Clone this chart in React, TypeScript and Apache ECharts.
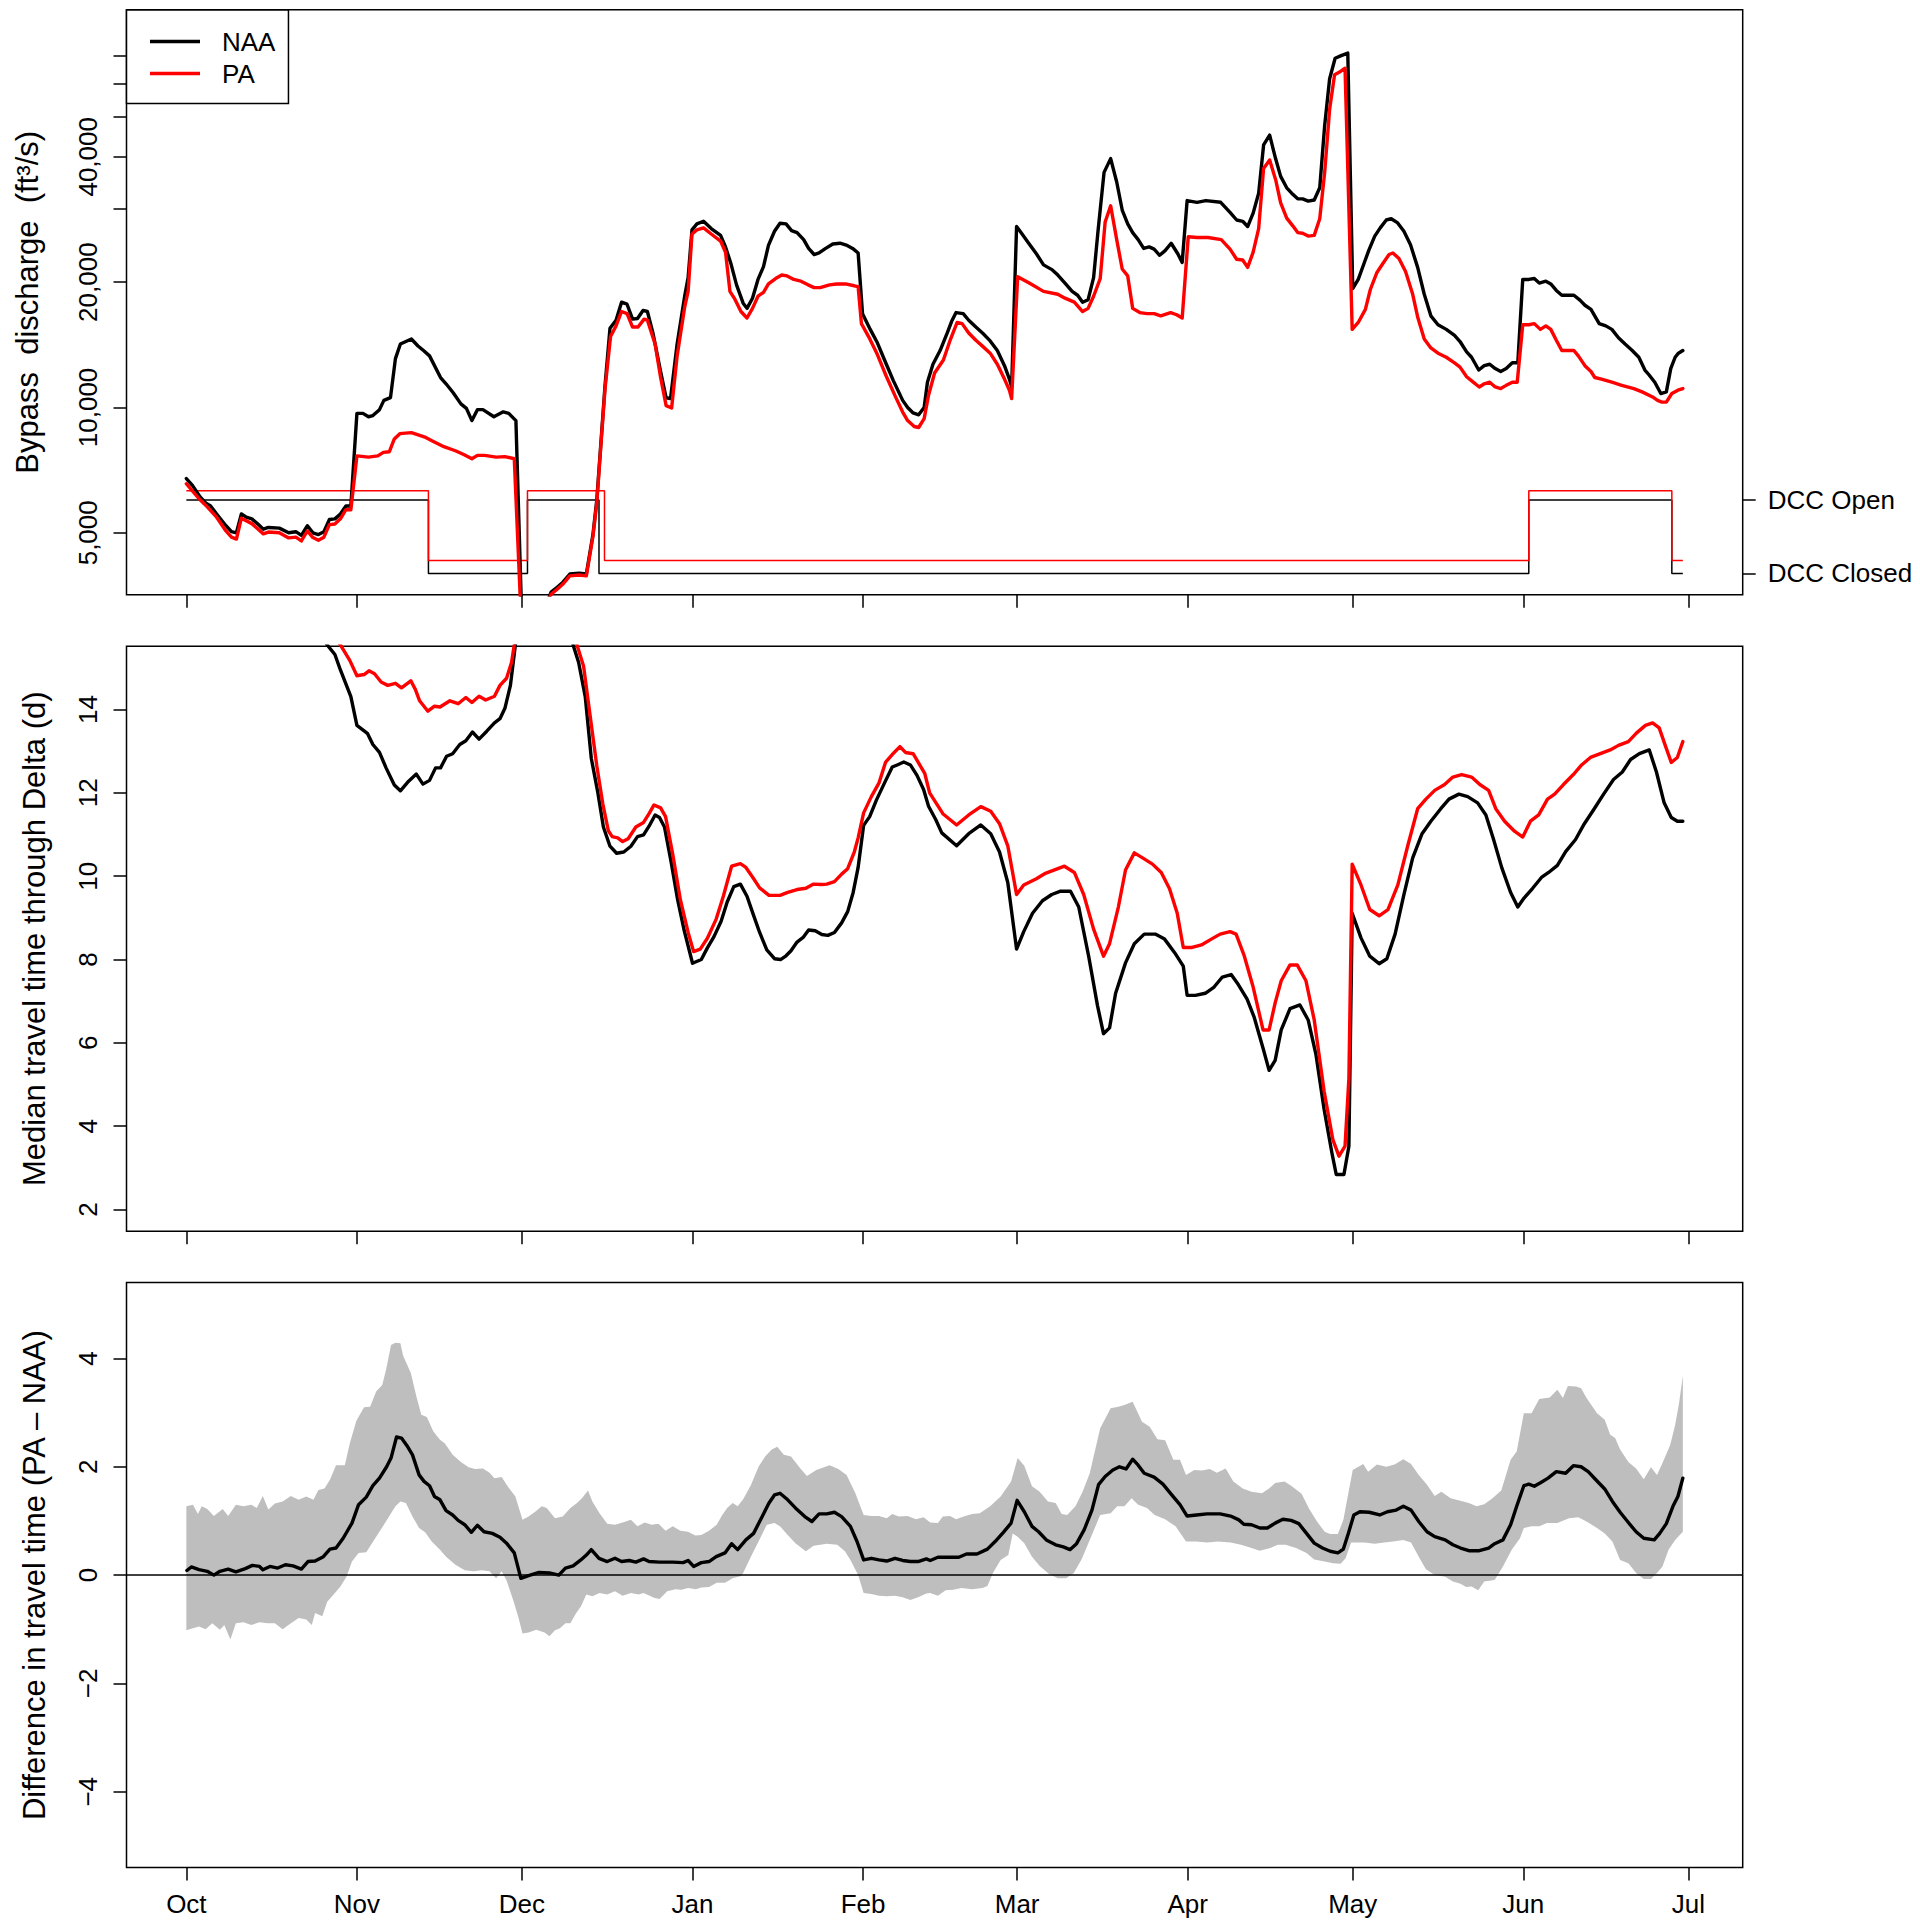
import React, { useEffect, useRef } from "react";
import * as echarts from "echarts";

// ---------- tick positions / labels ----------
const monthTickDays = [0, 31, 61, 92, 123, 151, 182, 212, 243, 273];
const monthLabels = ["Oct", "Nov", "Dec", "Jan", "Feb", "Mar", "Apr", "May", "Jun", "Jul"];
const flowTickValues = [5000, 10000, 20000, 30000, 40000, 50000, 60000, 70000];
const flowLabelValues = [5000, 10000, 20000, 40000];
const travelTickValues = [2, 4, 6, 8, 10, 12, 14];
const diffTickValues = [-4, -2, 0, 2, 4];
const gateTickValues = [0, 1];
const gateTickLabels = ["DCC Closed", "DCC Open"];

// ---------- panel 1: bypass discharge (ft3/s), [day since Oct 1, value] ----------
const naaFlow = [[0,6750],[1.1,6500],[2.5,6100],[3.5,5900],[4.4,5800],[5.5,5550],[7.2,5200],[8.2,5030],[9.1,5000],[10.0,5550],[10.9,5450],[11.9,5400],[12.9,5260],[14.0,5100],[14.9,5150],[16.9,5130],[18.6,5000],[19.9,5030],[20.9,4930],[22.0,5200],[23.0,5000],[24.0,4950],[25.0,5030],[26.0,5380],[27.0,5400],[28.0,5550],[29.0,5800],[29.9,5800],[31.0,9680],[32.1,9680],[33.1,9500],[33.9,9560],[35.1,9880],[35.9,10400],[37.1,10560],[38.0,13100],[38.9,14200],[40.9,14600],[42.1,14050],[43.1,13700],[44.2,13300],[46.2,11800],[47.2,11400],[48.5,10850],[49.9,10200],[50.9,9950],[51.9,9300],[52.9,9880],[53.9,9880],[55.9,9500],[57.6,9760],[58.6,9680],[59.9,9300],[61.0,3000],[64.0,2900],[65.5,3400],[66.3,3600],[67.4,3700],[68.4,3800],[69.7,3980],[71.4,4000],[72.7,3980],[73.9,4950],[74.6,6000],[75.4,8400],[76.1,11300],[77.0,15500],[78.1,16200],[79.1,17900],[80.1,17700],[81.1,16300],[82.0,16350],[83.0,17100],[83.8,17000],[84.8,15100],[86.2,12200],[87.2,10550],[88.0,10500],[89.2,14200],[90.6,18600],[91.2,20500],[91.9,26700],[92.8,27600],[94.0,28000],[95.4,26900],[97.1,25900],[98.0,24300],[99.0,22100],[100.0,19700],[101.2,17800],[101.9,17300],[102.9,18300],[103.9,20300],[104.9,21800],[105.8,24500],[106.9,26500],[107.9,27700],[109.0,27600],[110.0,26600],[111.0,26300],[112.2,25300],[113.1,24100],[114.1,23300],[115.0,23500],[116.2,24100],[117.5,24700],[118.8,24800],[120.1,24500],[121.1,24100],[122.1,23500],[122.9,16800],[124.3,15400],[125.6,14300],[126.9,13000],[128.5,11600],[130.2,10400],[131.1,10000],[132.1,9700],[133.1,9600],[134.1,10000],[134.7,11500],[135.7,12700],[137.0,13700],[138.3,15100],[139.1,16100],[139.9,16900],[141.2,16800],[142.2,16200],[143.5,15600],[144.8,15050],[146.1,14450],[147.4,13700],[148.7,12600],[149.6,11700],[150.0,11200],[150.9,27200],[151.9,26100],[153.1,24800],[154.5,23400],[155.8,22000],[157.4,21400],[158.4,20800],[159.7,19900],[161.0,19000],[162.0,18600],[162.9,17900],[163.9,18150],[164.9,20500],[165.7,26500],[166.8,36700],[168.0,39600],[169.1,34800],[170.1,29800],[171.1,27600],[172.0,26300],[173.0,25300],[174.0,24100],[175.0,24300],[175.9,24000],[176.9,23200],[177.9,23800],[179.0,24800],[180.2,23400],[181.0,22300],[181.9,31400],[183.7,31100],[185.3,31400],[188.0,31100],[189.7,29400],[190.9,28200],[192.0,28000],[192.9,27200],[193.9,29300],[194.9,32700],[195.8,42700],[196.9,45100],[198.0,39500],[198.9,35900],[200.0,33700],[200.9,32700],[202.0,31700],[202.9,31700],[203.9,31300],[205.0,31500],[206.0,33700],[206.9,47600],[207.8,61600],[208.8,69000],[209.9,70000],[211.1,71000],[212.0,19300],[213.0,20300],[213.9,21900],[214.9,23800],[216.0,25800],[217.0,27000],[218.1,28200],[219.0,28400],[220.1,27800],[221.3,26500],[222.5,24600],[223.8,21700],[225.0,18700],[226.2,16600],[227.5,15800],[229.0,15400],[230.5,14900],[231.5,14400],[232.7,13600],[233.6,13200],[234.9,12300],[235.9,12600],[236.9,12700],[237.9,12400],[238.9,12200],[239.9,12400],[241.0,12800],[242.0,12800],[242.9,20300],[244.0,20300],[245.0,20400],[245.9,19900],[247.1,20100],[248.0,19800],[249.0,19100],[250.0,18600],[251.1,18600],[252.2,18600],[253.3,18100],[254.2,17600],[255.3,17200],[256.8,15900],[258.0,15700],[259.1,15400],[260.3,14700],[261.5,14200],[262.8,13700],[264.0,13200],[265.1,12300],[265.8,12000],[266.9,11500],[268.0,10800],[269.0,10900],[269.8,12400],[270.6,13200],[271.2,13500],[272.0,13700]];

const paFlow = [[0,6560],[1.1,6300],[2.5,6000],[3.8,5770],[5.5,5450],[7.2,5050],[8.2,4880],[9.1,4830],[10.0,5420],[11.9,5260],[14.0,4970],[14.9,5020],[16.9,5000],[18.6,4860],[19.9,4880],[20.9,4780],[22.0,5050],[23.0,4870],[24.0,4800],[25.0,4880],[26.0,5230],[27.0,5250],[28.0,5400],[29.0,5680],[29.9,5680],[31.0,7650],[33.1,7600],[34.8,7650],[35.8,7800],[36.9,7830],[37.8,8400],[38.8,8650],[40.9,8700],[43.5,8470],[44.8,8300],[46.8,8050],[48.9,7870],[50.5,7700],[51.9,7530],[52.9,7670],[54.2,7670],[56.3,7600],[57.9,7620],[59.6,7530],[60.9,3000],[64.0,2880],[65.5,3370],[66.3,3560],[67.4,3660],[68.4,3760],[69.7,3940],[71.4,3960],[72.7,3940],[73.9,4900],[74.6,5900],[75.4,8300],[76.1,11100],[77.1,14800],[78.1,15700],[79.1,17000],[80.1,16800],[81.1,15600],[82.1,15600],[83.2,16300],[83.8,16200],[85.2,14200],[86.2,11800],[87.2,10100],[88.2,9970],[89.2,13300],[90.6,17500],[91.2,19000],[91.9,26100],[92.8,26700],[94.0,27000],[95.4,26100],[97.1,25100],[98.0,23600],[98.8,19000],[99.7,18200],[100.8,17000],[101.9,16400],[102.9,17300],[103.9,18500],[104.9,18900],[105.8,19800],[107.1,20400],[108.2,20800],[109.2,20700],[110.4,20300],[111.7,20100],[113.0,19700],[114.1,19400],[115.2,19400],[116.9,19700],[118.2,19800],[119.8,19800],[121.4,19600],[122.1,19500],[122.7,15900],[124.0,14800],[125.6,13400],[127.2,11900],[128.9,10600],[130.2,9750],[131.1,9300],[132.3,9000],[133.1,8950],[134.1,9400],[134.9,10700],[136.0,12100],[137.6,13000],[138.9,14600],[140.1,16000],[141.0,15900],[142.2,15100],[143.5,14500],[144.8,14000],[146.1,13500],[147.4,12700],[148.7,11700],[149.6,11000],[150.0,10500],[151.1,20600],[153.2,19900],[155.8,19000],[158.4,18700],[159.7,18300],[161.4,17900],[162.9,17000],[163.9,17300],[164.9,18500],[166.1,20400],[167.0,27900],[168.0,30500],[169.1,25300],[170.1,21500],[171.1,20700],[172.0,17300],[173.3,16900],[174.6,16800],[175.9,16800],[177.1,16600],[178.9,16900],[180.0,16700],[181.0,16400],[182.1,25700],[183.7,25600],[185.7,25600],[188.1,25300],[189.7,24000],[190.9,22700],[192.0,22600],[192.9,21700],[193.9,23600],[194.9,26900],[195.8,37500],[196.9,39300],[198.0,35200],[198.9,31000],[200.0,28500],[201.1,27300],[202.0,26300],[202.9,26200],[203.9,25800],[205.0,25900],[206.0,28400],[206.9,36700],[207.8,52000],[208.7,63000],[209.6,63900],[210.6,65300],[211.9,15400],[213.0,16000],[214.3,17200],[215.2,19200],[216.4,21100],[217.6,22300],[218.6,23300],[219.3,23500],[220.4,22800],[221.6,21200],[222.9,18700],[223.8,16500],[225.0,14600],[226.2,13900],[227.5,13500],[229.0,13200],[230.5,12800],[231.5,12500],[232.7,11850],[233.9,11500],[235.0,11200],[235.9,11400],[236.9,11500],[237.9,11200],[238.9,11100],[239.9,11300],[241.0,11500],[241.9,11500],[242.9,15800],[244.0,15800],[245.0,15900],[246.1,15400],[247.1,15700],[248.0,15400],[249.0,14500],[250.0,13700],[251.1,13700],[252.2,13700],[253.0,13300],[254.2,12600],[255.3,12200],[256.0,11800],[257.2,11700],[259.1,11500],[260.9,11300],[263.1,11100],[264.6,10900],[266.5,10600],[267.4,10400],[268.2,10300],[269.0,10300],[270.0,10800],[271.1,11000],[272.0,11100]];

// DCC gate: day of change and state (1 open, 0 closed)
const naaGate = [[0,1],[44,0],[62,1],[75,0],[244,1],[270,0],[272,0]];
const paGate = [[0,1],[44,0],[62,1],[76,0],[244,1],[270,0],[272,0]];
const paGateLevels = [0.178, 1.125]; // closed, open (drawn slightly offset)

// ---------- panel 2: median travel time (d) ----------
const naaTravel = [[0,20],[10,19],[20,17],[24,15.9],[25.6,15.55],[27.0,15.32],[28.0,14.95],[29.9,14.31],[31.0,13.62],[32.9,13.43],[33.9,13.16],[35.1,12.97],[36.3,12.60],[37.8,12.19],[38.9,12.05],[40.4,12.28],[41.8,12.45],[43.0,12.21],[44.2,12.30],[45.3,12.60],[46.2,12.60],[47.3,12.88],[48.4,12.94],[49.7,13.16],[50.8,13.25],[52.0,13.46],[53.2,13.29],[54.6,13.48],[56.0,13.68],[57.0,13.78],[57.9,14.03],[58.9,14.58],[59.8,15.55],[61,17],[65,20],[69,17],[70.3,15.55],[71.3,15.13],[72.5,14.31],[73.6,12.83],[74.8,12.0],[75.8,11.18],[77.0,10.72],[78.2,10.55],[79.5,10.58],[80.8,10.72],[82.0,10.95],[83.1,10.99],[84.1,11.20],[85.2,11.47],[86.0,11.41],[86.9,11.18],[88.1,10.35],[89.3,9.43],[90.5,8.69],[92.0,7.91],[93.6,8.00],[94.7,8.28],[95.9,8.55],[97.2,8.92],[98.3,9.38],[99.5,9.75],[100.7,9.81],[101.9,9.52],[103.1,9.06],[104.2,8.65],[105.5,8.23],[106.9,8.02],[108.0,8.00],[109.0,8.09],[109.9,8.21],[111.0,8.42],[112.1,8.53],[113.1,8.71],[114.3,8.69],[115.5,8.60],[116.6,8.58],[117.8,8.65],[119.1,8.88],[120.2,9.15],[121.2,9.61],[122.1,10.21],[123.1,11.22],[124.2,11.43],[125.4,11.82],[126.9,12.24],[128.3,12.62],[129.2,12.67],[130.4,12.74],[131.6,12.67],[132.8,12.42],[134.0,12.08],[134.9,11.68],[136.2,11.36],[137.3,11.04],[140.0,10.73],[142.2,11.02],[144.4,11.23],[146.2,11.02],[147.8,10.58],[149.3,9.85],[150.9,8.25],[152.2,8.67],[153.8,9.11],[155.6,9.41],[157.3,9.56],[158.9,9.64],[160.7,9.64],[162.2,9.26],[164.0,8.08],[165.6,6.90],[166.7,6.22],[167.8,6.36],[168.9,7.19],[170.7,7.92],[172.3,8.38],[174.1,8.61],[176.1,8.61],[177.8,8.49],[179.6,8.17],[181.2,7.84],[181.9,7.14],[183.4,7.14],[185.2,7.19],[186.8,7.34],[188.3,7.58],[189.9,7.64],[191.2,7.40],[192.8,7.05],[194.1,6.61],[195.7,5.87],[196.8,5.34],[197.9,5.58],[199.0,6.31],[200.6,6.82],[202.4,6.91],[203.9,6.55],[205.3,5.73],[206.8,4.40],[208.2,3.37],[209.0,2.84],[210.4,2.84],[211.3,3.52],[211.9,9.11],[213.5,8.52],[215.1,8.08],[216.8,7.90],[218.2,8.02],[219.7,8.61],[221.3,9.56],[222.9,10.44],[224.6,11.02],[226.2,11.32],[228.0,11.62],[229.5,11.85],[231.3,11.97],[232.9,11.91],[234.7,11.76],[236.2,11.47],[237.6,10.88],[239.1,10.20],[240.7,9.61],[242.0,9.26],[243.1,9.47],[244.7,9.71],[246.3,9.97],[247.6,10.09],[249.2,10.26],[250.7,10.59],[252.5,10.88],[254.1,11.26],[255.9,11.62],[257.6,11.97],[259.4,12.32],[261.0,12.50],[262.5,12.80],[264.1,12.94],[265.9,13.03],[267.2,12.50],[268.6,11.76],[269.9,11.41],[271.0,11.32],[272.0,11.32]];

const paTravel = [[0,20],[10,19.5],[20,17.5],[26,15.9],[28.0,15.55],[29.7,15.18],[31.0,14.81],[32.3,14.84],[33.2,14.93],[34.2,14.86],[35.4,14.66],[36.6,14.58],[38.0,14.63],[39.1,14.52],[40.8,14.69],[41.6,14.49],[42.4,14.21],[43.9,13.96],[45.1,14.08],[46.1,14.06],[47.9,14.21],[49.4,14.14],[50.8,14.29],[51.9,14.17],[53.2,14.32],[54.4,14.23],[56.0,14.32],[57.0,14.58],[58.2,14.75],[59.1,15.13],[59.6,15.55],[61,17.5],[65,20],[69.5,17],[71.0,15.55],[72.2,15.04],[73.4,13.84],[74.6,12.65],[75.7,11.73],[76.7,11.09],[77.4,10.95],[78.4,10.92],[79.3,10.83],[80.3,10.90],[81.7,11.18],[83.1,11.29],[84.1,11.50],[85.0,11.71],[86.2,11.64],[87.1,11.43],[88.4,10.53],[89.8,9.43],[91.2,8.65],[92.2,8.19],[93.4,8.25],[94.7,8.51],[96.3,8.97],[97.6,9.52],[99.1,10.24],[100.7,10.30],[101.7,10.21],[102.9,9.98],[104.2,9.72],[105.9,9.54],[107.9,9.54],[109.3,9.61],[111.0,9.68],[112.6,9.71],[114.0,9.81],[115.5,9.80],[116.4,9.81],[117.8,9.87],[119.1,10.05],[120.2,10.18],[121.4,10.58],[122.1,10.92],[123.1,11.52],[124.5,11.91],[125.9,12.24],[127.1,12.74],[128.3,12.92],[129.7,13.11],[130.7,12.97],[132.1,12.94],[133.0,12.74],[134.2,12.47],[135.1,12.00],[136.4,11.73],[137.5,11.50],[140.0,11.23],[142.2,11.47],[144.4,11.67],[146.2,11.56],[147.8,11.26],[149.3,10.73],[150.9,9.56],[152.2,9.79],[154.5,9.94],[156.0,10.06],[157.8,10.15],[159.6,10.24],[161.4,10.09],[163.1,9.56],[164.9,8.73],[166.7,8.08],[167.8,8.38],[169.4,9.26],[170.7,10.15],[172.3,10.56],[173.8,10.44],[175.6,10.29],[177.2,10.09],[178.7,9.70],[180.1,9.11],[181.2,8.29],[182.8,8.29],[184.5,8.35],[186.3,8.49],[187.9,8.61],[189.7,8.67],[190.8,8.61],[192.3,8.08],[193.9,7.34],[195.7,6.31],[196.8,6.31],[197.9,6.96],[199.0,7.49],[200.6,7.87],[201.9,7.87],[203.5,7.49],[205.0,6.55],[206.8,4.84],[208.4,3.67],[209.5,3.28],[210.6,3.52],[211.3,5.14],[211.9,10.29],[213.5,9.79],[215.1,9.20],[216.8,9.05],[218.4,9.20],[220.2,9.79],[222.0,10.73],[223.8,11.62],[225.3,11.85],[226.9,12.06],[228.7,12.20],[230.2,12.38],[231.8,12.44],[233.6,12.38],[235.1,12.20],[236.7,12.06],[238.0,11.62],[239.6,11.32],[241.4,11.08],[242.9,10.94],[244.3,11.32],[245.8,11.47],[247.4,11.85],[248.7,11.97],[250.3,12.20],[252.1,12.44],[253.6,12.67],[255.2,12.85],[257.0,12.94],[258.8,13.03],[260.3,13.14],[262.1,13.23],[263.6,13.44],[265.2,13.62],[266.5,13.68],[267.7,13.56],[268.8,13.14],[269.9,12.73],[271.0,12.85],[272.0,13.23]];

// ---------- panel 3: difference in travel time (PA - NAA) ----------
const diffMedian = [[0.1,0.085],[0.9,0.15],[2.3,0.10],[3.8,0.07],[5.0,0.0],[6.1,0.07],[7.6,0.11],[9.0,0.06],[10.7,0.12],[12.0,0.18],[13.3,0.16],[13.9,0.10],[15.2,0.16],[16.6,0.13],[18.0,0.19],[19.4,0.17],[20.9,0.11],[22.1,0.25],[23.4,0.26],[24.9,0.34],[26.1,0.48],[27.2,0.50],[28.5,0.68],[30.1,0.96],[31.3,1.30],[32.7,1.44],[33.9,1.65],[35.1,1.79],[36.4,2.00],[37.2,2.16],[38.2,2.55],[39.1,2.53],[40.1,2.39],[41.1,2.22],[42.3,1.85],[43.2,1.73],[44.2,1.65],[45.1,1.45],[46.1,1.39],[47.2,1.19],[48.4,1.11],[49.4,1.01],[50.6,0.93],[51.8,0.79],[52.9,0.92],[54.1,0.80],[55.6,0.77],[57.0,0.70],[58.2,0.59],[59.6,0.41],[60.8,-0.06],[62.2,-0.01],[64.1,0.05],[66.0,0.04],[67.7,0.0],[68.9,0.13],[70.3,0.17],[71.7,0.28],[72.7,0.37],[73.6,0.47],[75.0,0.31],[76.5,0.25],[77.9,0.31],[79.1,0.25],[80.5,0.27],[81.7,0.24],[83.1,0.30],[84.1,0.25],[86.0,0.24],[88.4,0.24],[90.3,0.23],[91.2,0.27],[92.2,0.16],[93.6,0.23],[95.0,0.25],[96.3,0.34],[97.9,0.41],[99.1,0.58],[100.2,0.47],[101.7,0.65],[103.1,0.77],[104.5,1.05],[105.9,1.33],[106.9,1.48],[107.9,1.51],[109.3,1.39],[110.7,1.24],[112.4,1.08],[113.7,0.99],[115.0,1.13],[116.4,1.13],[117.8,1.16],[119.1,1.08],[120.7,0.90],[121.9,0.62],[123.1,0.28],[124.5,0.31],[125.9,0.28],[127.3,0.26],[128.8,0.31],[130.2,0.27],[131.6,0.25],[133.0,0.25],[134.5,0.30],[135.2,0.27],[136.6,0.33],[138.5,0.33],[140.4,0.33],[141.8,0.39],[143.7,0.39],[145.6,0.48],[147.0,0.62],[148.5,0.79],[149.9,0.96],[151.0,1.38],[152.3,1.17],[153.7,0.90],[154.9,0.80],[156.3,0.65],[158.0,0.56],[159.4,0.52],[160.6,0.47],[161.8,0.58],[163.2,0.84],[164.6,1.20],[165.8,1.67],[167.0,1.82],[168.4,1.94],[169.6,2.00],[170.8,1.96],[172.0,2.14],[173.0,2.03],[174.1,1.88],[175.9,1.81],[177.5,1.68],[179.1,1.48],[180.6,1.30],[181.9,1.09],[183.6,1.11],[185.5,1.13],[187.9,1.13],[189.8,1.09],[191.3,1.02],[192.2,0.94],[193.6,0.93],[195.1,0.87],[196.5,0.87],[197.9,0.96],[199.3,1.03],[200.8,1.01],[202.2,0.95],[203.6,0.77],[205.0,0.59],[206.5,0.50],[207.9,0.44],[209.3,0.41],[210.3,0.48],[211.2,0.77],[212.2,1.11],[213.3,1.17],[215.0,1.16],[216.9,1.11],[218.3,1.17],[219.9,1.20],[221.2,1.27],[222.6,1.20],[224.0,0.99],[225.5,0.80],[226.9,0.71],[228.8,0.65],[230.2,0.56],[231.6,0.50],[233.1,0.45],[235.0,0.45],[236.7,0.50],[237.8,0.58],[239.3,0.65],[240.7,0.93],[241.8,1.27],[243.1,1.65],[244.0,1.68],[245.0,1.64],[246.2,1.71],[247.5,1.79],[249.0,1.91],[250.7,1.88],[252.1,2.02],[253.5,2.00],[254.8,1.91],[256.1,1.77],[257.8,1.59],[259.2,1.36],[260.6,1.16],[262.1,0.97],[263.5,0.80],[264.9,0.68],[266.8,0.65],[267.8,0.77],[269.0,0.95],[270.2,1.27],[271.1,1.45],[272.0,1.79]];

const diffUpper = [[0,1.27],[1.2,1.30],[2.1,1.13],[2.8,1.27],[3.8,1.22],[5.0,1.09],[6.6,1.22],[7.6,1.09],[9.0,1.30],[10.4,1.27],[11.8,1.30],[12.8,1.24],[13.9,1.46],[14.9,1.21],[16.1,1.32],[17.5,1.36],[19.0,1.46],[20.4,1.39],[21.8,1.45],[23.1,1.39],[24.0,1.57],[25.1,1.60],[26.1,1.76],[27.2,2.03],[28.8,2.03],[29.7,2.43],[30.9,2.85],[32.3,3.10],[33.4,3.11],[34.5,3.39],[35.6,3.51],[36.3,3.79],[37.2,4.25],[38.0,4.29],[38.9,4.28],[39.4,4.05],[40.8,3.73],[41.8,3.30],[42.7,2.96],[43.7,2.92],[44.9,2.65],[46.1,2.50],[47.0,2.43],[48.4,2.22],[49.9,2.09],[51.3,1.99],[52.5,1.96],[53.9,1.97],[55.1,1.89],[56.0,1.79],[57.3,1.81],[58.4,1.64],[59.8,1.45],[61.1,1.02],[62.2,1.08],[63.4,1.17],[64.6,1.27],[65.5,1.24],[67.0,1.05],[68.4,1.08],[69.8,1.24],[71.0,1.33],[71.9,1.42],[73.0,1.56],[73.8,1.36],[75.1,1.14],[76.5,0.95],[77.9,0.93],[79.3,0.97],[80.8,1.02],[82.0,0.90],[83.3,0.97],[84.6,0.93],[85.8,0.95],[87.1,0.82],[88.4,0.90],[89.8,0.82],[91.2,0.80],[92.5,0.73],[93.6,0.74],[95.0,0.82],[96.4,0.93],[97.4,1.11],[98.3,1.24],[99.3,1.33],[100.2,1.27],[101.2,1.40],[102.6,1.66],[104.0,2.00],[105.2,2.19],[106.4,2.32],[107.4,2.37],[108.6,2.22],[109.9,2.19],[111.6,1.97],[112.8,1.83],[114.5,1.94],[116.9,2.03],[118.5,1.96],[120.0,1.85],[121.6,1.51],[123.1,1.11],[124.5,1.09],[125.9,1.09],[127.3,1.05],[128.3,1.13],[129.5,1.08],[131.1,1.09],[132.6,1.03],[134.0,1.07],[135.2,0.97],[136.6,0.96],[137.5,1.08],[138.8,1.09],[139.9,1.03],[141.3,1.08],[142.8,1.13],[144.2,1.14],[146.1,1.27],[148.0,1.45],[149.9,1.73],[151.1,2.16],[152.3,2.02],[153.7,1.64],[155.1,1.54],[156.6,1.36],[158.0,1.33],[159.1,1.13],[160.1,1.11],[161.6,1.27],[162.9,1.54],[164.2,1.88],[166.1,2.71],[168.0,3.08],[169.4,3.11],[170.5,3.14],[172.0,3.20],[173.7,2.83],[175.1,2.74],[176.5,2.51],[177.9,2.49],[179.4,2.13],[180.6,2.13],[181.7,1.85],[183.2,1.94],[184.6,1.93],[186.0,1.96],[187.3,1.89],[188.9,1.97],[190.3,1.73],[192.0,1.60],[193.6,1.54],[195.5,1.51],[196.8,1.60],[197.9,1.70],[199.6,1.73],[200.8,1.65],[202.7,1.50],[204.1,1.22],[205.5,0.99],[206.9,0.80],[207.9,0.76],[209.3,0.76],[210.3,1.02],[211.2,1.51],[212.0,1.94],[213.9,2.05],[214.8,1.91],[216.4,2.04],[218.1,2.00],[219.6,2.04],[221.2,2.14],[222.6,2.05],[224.0,1.85],[225.5,1.67],[226.9,1.46],[228.1,1.54],[229.8,1.42],[231.2,1.38],[233.1,1.33],[234.5,1.27],[235.9,1.31],[237.4,1.42],[239.0,1.56],[240.7,2.13],[241.8,2.28],[243.1,2.99],[244.5,2.99],[245.9,3.25],[247.8,3.28],[249.2,3.42],[250.2,3.27],[251.1,3.49],[252.6,3.48],[253.5,3.45],[254.5,3.27],[256.4,2.99],[257.8,2.87],[258.8,2.59],[259.7,2.53],[260.6,2.32],[262.1,2.09],[263.5,1.97],[264.9,1.77],[266.2,1.99],[267.3,1.85],[268.3,2.07],[269.7,2.40],[270.6,2.77],[271.3,3.17],[272.0,3.68]];

const diffLower = [[0,-1.02],[1.2,-0.98],[2.3,-0.95],[3.5,-1.00],[4.7,-0.89],[6.1,-1.01],[6.9,-0.92],[8.0,-1.19],[9.0,-0.89],[10.4,-0.87],[11.8,-0.92],[13.3,-0.87],[14.7,-0.89],[16.1,-0.89],[17.5,-1.00],[19.0,-0.89],[20.4,-0.79],[21.8,-0.82],[22.8,-0.92],[23.4,-0.70],[24.7,-0.76],[25.6,-0.49],[27.0,-0.33],[28.0,-0.21],[29.1,-0.03],[30.1,0.25],[31.3,0.41],[32.7,0.42],[34.5,0.71],[36.1,0.96],[38.0,1.27],[38.9,1.36],[39.9,1.33],[41.1,1.08],[42.3,0.87],[43.4,0.79],[44.6,0.62],[46.1,0.47],[47.2,0.34],[48.9,0.19],[50.6,0.09],[52.2,0.07],[53.7,0.09],[55.1,0.07],[56.3,-0.06],[57.3,0.07],[58.2,-0.10],[59.4,-0.46],[60.3,-0.76],[61.1,-1.08],[62.2,-1.06],[63.6,-1.01],[65.1,-1.06],[66.0,-1.13],[67.0,-1.02],[67.9,-0.98],[68.9,-0.89],[69.8,-0.89],[70.8,-0.71],[71.7,-0.58],[72.7,-0.36],[73.8,-0.39],[75.1,-0.33],[76.5,-0.36],[77.9,-0.30],[79.3,-0.38],[80.8,-0.33],[82.2,-0.36],[83.1,-0.33],[85.0,-0.42],[86.0,-0.44],[87.4,-0.30],[88.9,-0.26],[90.0,-0.27],[91.2,-0.24],[92.6,-0.26],[93.6,-0.23],[95.0,-0.22],[96.4,-0.14],[97.9,-0.14],[99.3,-0.06],[100.7,-0.02],[101.2,0.04],[102.6,0.34],[104.0,0.62],[105.5,0.93],[106.9,0.96],[107.9,0.90],[109.3,0.74],[110.7,0.59],[112.6,0.44],[114.0,0.54],[116.4,0.58],[118.3,0.56],[119.7,0.44],[120.7,0.28],[122.1,0.0],[123.1,-0.33],[124.5,-0.35],[125.9,-0.38],[127.3,-0.39],[128.8,-0.38],[130.2,-0.41],[131.6,-0.46],[133.0,-0.41],[134.5,-0.34],[135.2,-0.33],[136.6,-0.38],[138.0,-0.28],[139.4,-0.27],[140.9,-0.24],[142.8,-0.26],[144.7,-0.24],[145.6,-0.20],[146.6,0.04],[148.0,0.28],[149.4,0.37],[150.2,0.77],[151.1,0.71],[152.3,0.59],[153.7,0.34],[155.1,0.17],[156.8,0.02],[158.4,-0.06],[159.9,-0.06],[161.3,0.04],[162.7,0.29],[164.2,0.65],[166.1,1.11],[168.0,1.14],[169.2,1.27],[170.5,1.27],[171.8,1.42],[173.0,1.30],[174.6,1.24],[176.0,1.11],[177.9,1.03],[179.8,0.90],[181.7,0.62],[183.6,0.62],[185.5,0.60],[187.5,0.62],[189.8,0.60],[191.7,0.56],[193.6,0.50],[195.1,0.45],[197.0,0.50],[198.4,0.56],[199.8,0.56],[201.7,0.50],[203.6,0.41],[205.0,0.29],[206.9,0.25],[208.4,0.22],[209.8,0.21],[210.7,0.31],[211.7,0.60],[214.1,0.60],[216.0,0.58],[217.7,0.60],[219.3,0.62],[221.2,0.65],[222.6,0.60],[224.0,0.34],[225.3,0.11],[226.9,0.0],[228.8,-0.03],[230.2,-0.12],[231.6,-0.16],[232.6,-0.22],[233.6,-0.21],[234.8,-0.28],[235.9,-0.12],[237.8,-0.09],[239.3,0.16],[240.9,0.47],[242.4,0.68],[243.1,0.87],[244.5,0.90],[245.9,0.90],[247.3,0.96],[249.2,0.96],[251.3,1.05],[253.0,1.07],[254.5,0.99],[256.4,0.87],[257.8,0.77],[259.2,0.62],[260.6,0.28],[262.1,0.22],[263.5,0.04],[264.9,-0.07],[266.2,-0.07],[267.3,0.04],[268.3,0.16],[269.4,0.47],[270.6,0.65],[272.0,0.80]];

// ---------- styling ----------
const FONT = "'Liberation Sans', Arial, Helvetica, sans-serif";
const FS = 26;
const FS_TITLE = 31;
const GRID_LEFT = 126.5;
const GRID_WIDTH = 1616.2;
const GRID_HEIGHT = 585;
const GRID_TOPS = [9.8, 646.2, 1282.6];
const X_MIN = -10.88;
const X_MAX = 282.88;
const LW = 3.4;

const tickStyle = { show: true, length: 13, lineStyle: { color: "#000", width: 1.5 } };
const hiddenAxisLine = { show: false, onZero: false };

function minusLabel(v: number) {
  return v < 0 ? "\u2212" + Math.abs(v) : String(v);
}

export default function App() {
  const ref = useRef<HTMLDivElement>(null);

  useEffect(() => {
    document.body.style.margin = "0";
    if (!ref.current) return;
    const chart = echarts.init(ref.current, null, { renderer: "svg" });

    const grids = GRID_TOPS.map((top) => ({
      left: GRID_LEFT,
      width: GRID_WIDTH,
      top,
      height: GRID_HEIGHT,
      show: true,
      borderColor: "#000",
      borderWidth: 1.5,
      backgroundColor: "transparent",
    }));

    const xAxes = [0, 1, 2].map((i) => ({
      type: "value",
      gridIndex: i,
      position: "bottom",
      min: X_MIN,
      max: X_MAX,
      axisLine: hiddenAxisLine,
      splitLine: { show: false },
      axisTick: { ...tickStyle, customValues: monthTickDays },
      axisLabel:
        i === 2
          ? {
              show: true,
              customValues: monthTickDays,
              formatter: (v: number) => monthLabels[monthTickDays.indexOf(Math.round(v))],
              margin: 36,
              verticalAlign: "middle",
              align: "center",
              fontSize: FS,
              fontFamily: FONT,
              color: "#000",
            }
          : { show: false },
    }));

    const yLabelCommon = {
      rotate: 90,
      align: "center",
      verticalAlign: "middle",
      margin: 39,
      fontSize: FS,
      fontFamily: FONT,
      color: "#000",
    };
    const yNameStyle = {
      fontSize: FS_TITLE,
      fontFamily: FONT,
      color: "#000",
      align: "center",
      verticalAlign: "middle",
    };

    const yAxes = [
      {
        type: "value",
        gridIndex: 0,
        position: "left",
        min: Math.log10(4000) - 0.04 * Math.log10(20),
        max: Math.log10(80000) + 0.04 * Math.log10(20),
        axisLine: hiddenAxisLine,
        splitLine: { show: false },
        axisTick: { ...tickStyle, customValues: flowTickValues.map((v) => Math.log10(v)) },
        axisLabel: {
          ...yLabelCommon,
          customValues: flowLabelValues.map((v) => Math.log10(v)),
          formatter: (v: number) => Math.round(Math.pow(10, v)).toLocaleString("en-US"),
        },
        name: "Bypass\u00a0\u00a0discharge\u00a0\u00a0(ft\u00b3/s)",
        nameLocation: "middle",
        nameRotate: 90,
        nameGap: 99,
        nameTextStyle: yNameStyle,
      },
      {
        type: "value",
        gridIndex: 0,
        position: "right",
        min: -0.29,
        max: 7.669,
        axisLine: hiddenAxisLine,
        splitLine: { show: false },
        axisTick: { ...tickStyle, customValues: gateTickValues },
        axisLabel: {
          customValues: gateTickValues,
          formatter: (v: number) => gateTickLabels[Math.round(v)],
          margin: 25,
          align: "left",
          verticalAlign: "middle",
          fontSize: FS,
          fontFamily: FONT,
          color: "#000",
        },
      },
      {
        type: "value",
        gridIndex: 1,
        position: "left",
        min: 1.48,
        max: 15.52,
        axisLine: hiddenAxisLine,
        splitLine: { show: false },
        axisTick: { ...tickStyle, customValues: travelTickValues },
        axisLabel: { ...yLabelCommon, customValues: travelTickValues, formatter: (v: number) => String(v) },
        name: "Median travel time through Delta (d)",
        nameLocation: "middle",
        nameRotate: 90,
        nameGap: 92,
        nameTextStyle: yNameStyle,
      },
      {
        type: "value",
        gridIndex: 2,
        position: "left",
        min: -5.4,
        max: 5.4,
        axisLine: hiddenAxisLine,
        splitLine: { show: false },
        axisTick: { ...tickStyle, customValues: diffTickValues },
        axisLabel: { ...yLabelCommon, customValues: diffTickValues, formatter: (v: number) => minusLabel(v) },
        name: "Difference in travel time (PA \u2013 NAA)",
        nameLocation: "middle",
        nameRotate: 90,
        nameGap: 92,
        nameTextStyle: yNameStyle,
      },
    ];

    const lineBase = {
      type: "line",
      showSymbol: false,
      symbol: "none",
      silent: true,
      clip: true,
    };

    const series: any[] = [
      {
        ...lineBase,
        name: "NAA",
        xAxisIndex: 0,
        yAxisIndex: 0,
        color: "#000",
        z: 3,
        lineStyle: { color: "#000", width: LW, cap: "round", join: "round" },
        data: naaFlow.map(([d, v]) => [d, Math.log10(v)]),
      },
      {
        ...lineBase,
        name: "PA",
        xAxisIndex: 0,
        yAxisIndex: 0,
        color: "#ff0000",
        z: 4,
        lineStyle: { color: "#ff0000", width: LW, cap: "round", join: "round" },
        data: paFlow.map(([d, v]) => [d, Math.log10(v)]),
      },
      {
        ...lineBase,
        name: "NAA DCC",
        xAxisIndex: 0,
        yAxisIndex: 1,
        step: "end",
        z: 2,
        lineStyle: { color: "#000", width: 1.5 },
        data: naaGate.map(([d, s]) => [d, s]),
      },
      {
        ...lineBase,
        name: "PA DCC",
        xAxisIndex: 0,
        yAxisIndex: 1,
        step: "end",
        z: 2,
        lineStyle: { color: "#ff0000", width: 1.5 },
        data: paGate.map(([d, s]) => [d, paGateLevels[s]]),
      },
      {
        ...lineBase,
        name: "NAA travel",
        xAxisIndex: 1,
        yAxisIndex: 2,
        z: 3,
        lineStyle: { color: "#000", width: LW, cap: "round", join: "round" },
        data: naaTravel,
      },
      {
        ...lineBase,
        name: "PA travel",
        xAxisIndex: 1,
        yAxisIndex: 2,
        z: 4,
        lineStyle: { color: "#ff0000", width: LW, cap: "round", join: "round" },
        data: paTravel,
      },
      {
        type: "custom",
        name: "Interval",
        xAxisIndex: 2,
        yAxisIndex: 3,
        z: 1,
        silent: true,
        clip: true,
        data: [[0, 0]],
        renderItem: (_params: any, api: any) => {
          const pts: number[][] = [];
          diffUpper.forEach((p) => pts.push(api.coord(p)));
          for (let i = diffLower.length - 1; i >= 0; i--) pts.push(api.coord(diffLower[i]));
          return { type: "polygon", shape: { points: pts }, style: { fill: "#bebebe", stroke: null } };
        },
      },
      {
        ...lineBase,
        name: "Median difference",
        xAxisIndex: 2,
        yAxisIndex: 3,
        z: 3,
        lineStyle: { color: "#000", width: LW, cap: "round", join: "round" },
        data: diffMedian,
        markLine: {
          silent: true,
          symbol: ["none", "none"],
          label: { show: false },
          lineStyle: { color: "#000", width: 1.5, type: "solid" },
          data: [{ yAxis: 0 }],
        },
      },
    ];

    chart.setOption({
      animation: false,
      backgroundColor: "#fff",
      textStyle: { fontFamily: FONT, color: "#000" },
      grid: grids,
      xAxis: xAxes,
      yAxis: yAxes,
      legend: {
        data: ["NAA", "PA"],
        orient: "vertical",
        left: GRID_LEFT,
        top: 10,
        icon: "rect",
        itemWidth: 50,
        itemHeight: 3.4,
        itemGap: 6,
        padding: [18.5, 13, 17, 23.5],
        borderColor: "#000",
        borderWidth: 1.5,
        backgroundColor: "#fff",
        selectedMode: false,
        textStyle: { fontSize: FS, fontFamily: FONT, color: "#000", padding: [0, 0, 0, 17] },
      },
      series,
    });

    return () => {
      chart.dispose();
    };
  }, []);

  return <div ref={ref} style={{ width: 1920, height: 1923 }} />;
}
